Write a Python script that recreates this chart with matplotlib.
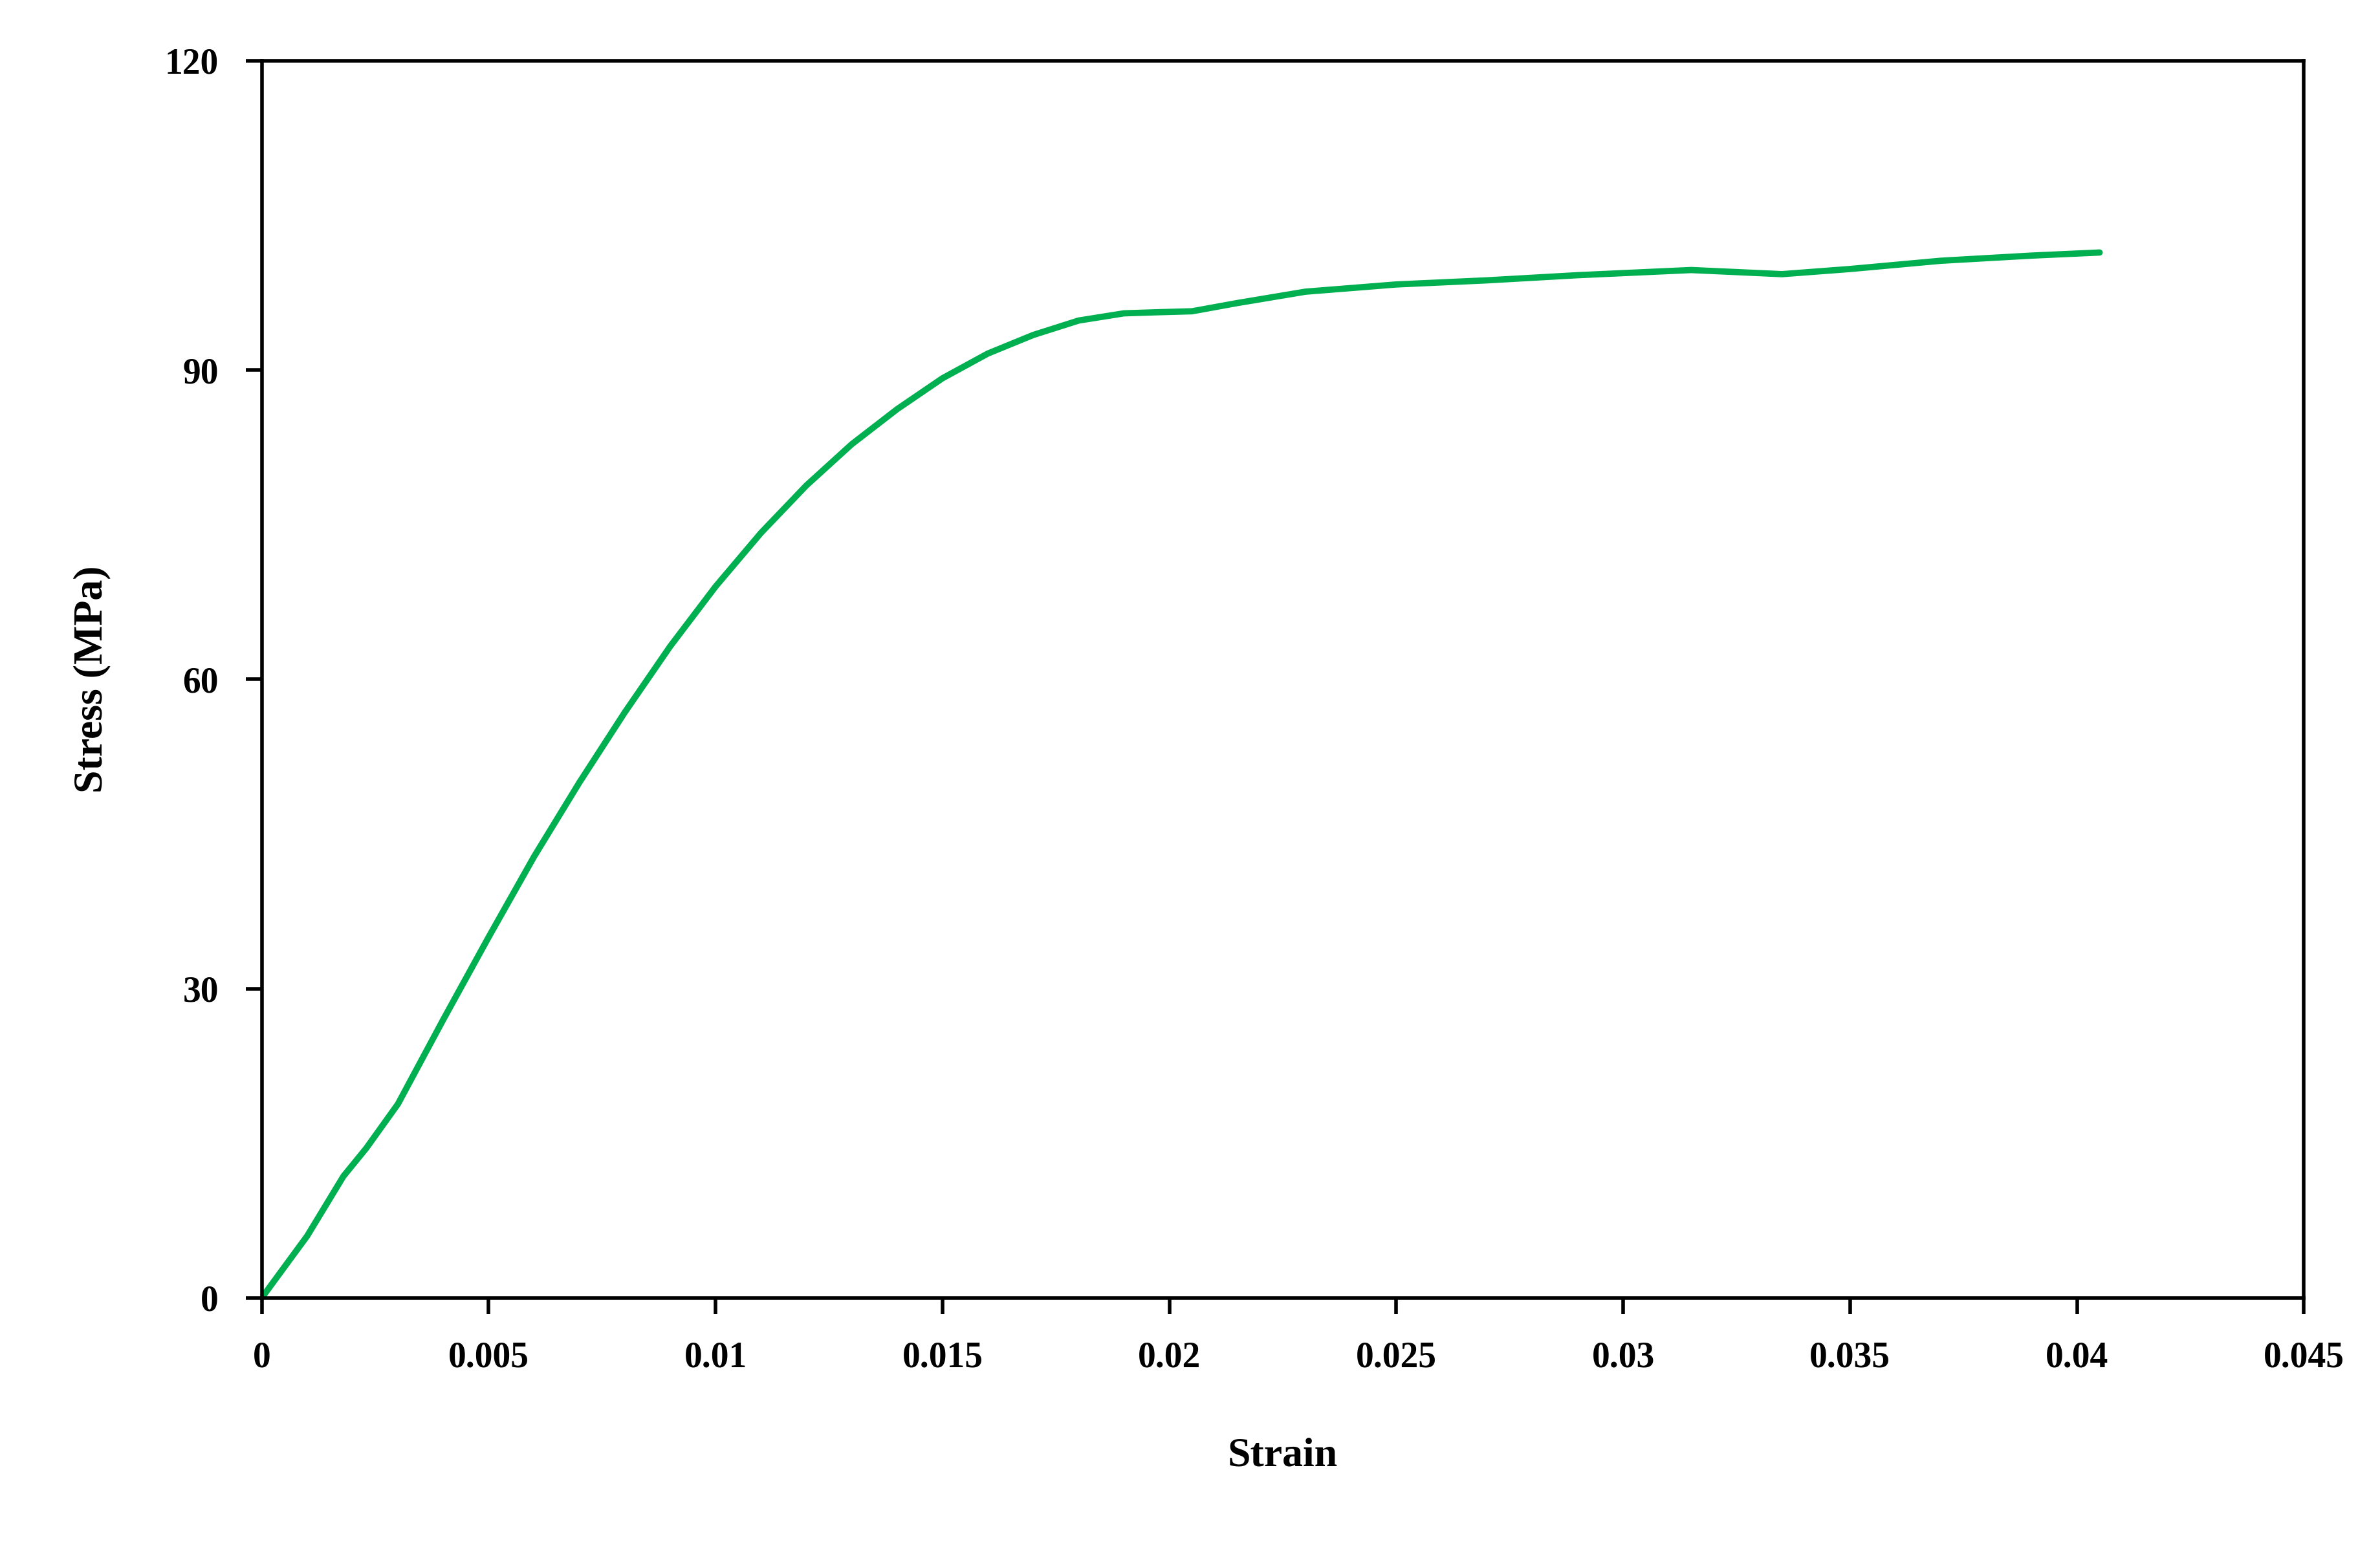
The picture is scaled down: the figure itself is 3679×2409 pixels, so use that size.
import matplotlib
matplotlib.use("Agg")
import matplotlib.pyplot as plt

strain = [0, 0.001, 0.0018, 0.0023, 0.003, 0.004, 0.005, 0.006, 0.007, 0.008, 0.009, 0.010,
          0.011, 0.012, 0.013, 0.014, 0.015, 0.016, 0.017, 0.018, 0.019, 0.0197, 0.0205,
          0.0215, 0.023, 0.025, 0.027, 0.029, 0.0305, 0.0315, 0.0325, 0.0335, 0.035,
          0.037, 0.039, 0.0405]
stress = [0, 6.0, 11.8, 14.5, 18.8, 27.0, 35.0, 42.8, 50.0, 56.8, 63.2, 69.0,
          74.2, 78.8, 82.8, 86.2, 89.2, 91.6, 93.4, 94.8, 95.5, 95.6, 95.7,
          96.5, 97.6, 98.3, 98.7, 99.2, 99.5, 99.7, 99.5, 99.3, 99.8,
          100.6, 101.1, 101.4]
xticks = [0, 0.005, 0.01, 0.015, 0.02, 0.025, 0.03, 0.035, 0.04, 0.045]
xticklabels = ["0", "0.005", "0.01", "0.015", "0.02", "0.025", "0.03", "0.035", "0.04", "0.045"]
yticks = [0, 30, 60, 90, 120]

plt.rcParams['font.family'] = ['Liberation Serif', 'DejaVu Serif']
fig = plt.figure(figsize=(36.79, 24.09), dpi=100)
ax = fig.add_axes([0.110, 0.167, 0.858, 0.794])
ax.plot(strain, stress, color="#00B050", lw=7, solid_capstyle='round')
ax.set_xlim(0, 0.045)
ax.set_ylim(0, 120)
ax.set_xticks(xticks)
ax.set_xticklabels(xticklabels)
ax.set_yticks(yticks)
for s in ax.spines.values():
    s.set_linewidth(4)
ax.tick_params(direction='out', length=18, width=4, labelsize=40, pad=30)
for lab in ax.get_xticklabels() + ax.get_yticklabels():
    lab.set_fontweight('bold')
ax.set_xlabel("Strain", fontsize=46, fontweight='bold', labelpad=70)
ax.set_ylabel("Stress (MPa)", fontsize=46, fontweight='bold', labelpad=60)
fig.savefig("out.png", dpi=100, facecolor='white')
